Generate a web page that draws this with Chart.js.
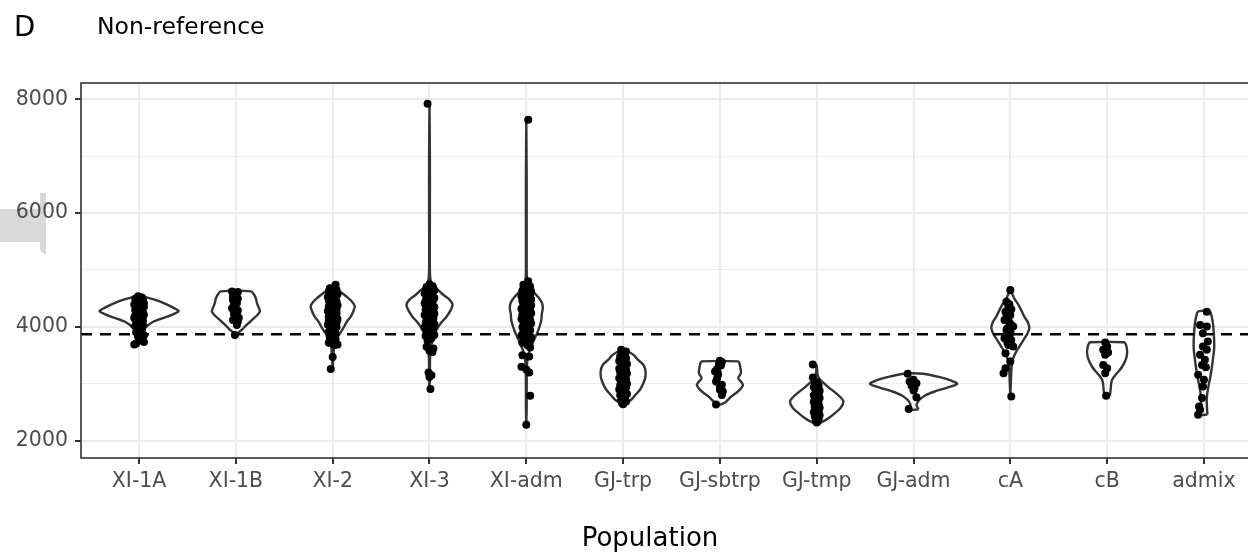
<!DOCTYPE html>
<html>
<head>
<meta charset="utf-8">
<script src="https://cdn.jsdelivr.net/npm/chart.js@4.4.1/dist/chart.umd.min.js"></script>
<style>
  body { margin: 0; background: #fff; overflow: hidden; font-family: "DejaVu Sans", sans-serif; }
  #wrap { position: relative; width: 1275px; height: 552px; }
  #myChart { position: relative; z-index: 1; }
  .txt { position: absolute; white-space: nowrap; line-height: 1; color: #000; z-index: 2; }
  .grey { position: absolute; background: #d9d9d9; z-index: 0; }
</style>
</head>
<body>
<div id="wrap">
  <div class="grey" style="left:0;top:209px;width:42px;height:33px"></div>
  <div class="grey" style="left:40px;top:193px;width:6px;height:61px;border-radius:0 0 0 6px"></div>
  <canvas id="myChart"></canvas>
  <div class="txt" style="left:14px;top:13px;font-size:27.5px">D</div>
  <div class="txt" style="left:97px;top:15px;font-size:23.5px">Non-reference</div>
  <div class="txt" style="left:650px;top:524px;font-size:26px;transform:translateX(-50%)">Population</div>
</div>
<script>
const categories = ["XI-1A", "XI-1B", "XI-2", "XI-3", "XI-adm", "GJ-trp", "GJ-sbtrp", "GJ-tmp", "GJ-adm", "cA", "cB", "admix"];
const yTicks = [2000, 4000, 6000, 8000];
const yMinor = [3000, 5000, 7000];
const refLine = 3870;

// violin outlines: values (bottom -> top) and density
const xi1aViolinY = [3690, 3800, 3900, 3980, 4090, 4180, 4230, 4280, 4330, 4390, 4470, 4510, 4545];
const xi1aViolinD = [0, 3, 4, 6, 14, 28, 35, 39.5, 35, 28, 17, 9, 0];
const xi1bViolinY = [3870, 3950, 4040, 4120, 4200, 4270, 4330, 4420, 4500, 4570, 4625];
const xi1bViolinD = [0, 6, 11, 16, 21, 24, 23, 21, 20, 18, 15];
const xi2ViolinY = [3260, 3450, 3650, 3780, 3880, 3990, 4090, 4180, 4270, 4360, 4450, 4530, 4600, 4660, 4740];
const xi2ViolinD = [0, 0.6, 1.5, 4, 7, 11, 14, 18, 20.5, 22, 19, 14, 9, 4, 0];
const xi3ViolinY = [2910, 3100, 3400, 3650, 3780, 3880, 3980, 4080, 4180, 4290, 4390, 4480, 4560, 4640, 4720, 4800, 5000, 6000, 7000, 7920];
const xi3ViolinD = [0, 0.4, 0.5, 1.3, 3.5, 5, 8, 12, 17, 21, 23, 20, 14, 9, 4, 1.3, 0.4, 0.4, 0.4, 0];
const xiAdmViolinY = [2280, 2600, 3000, 3300, 3450, 3570, 3700, 3820, 3920, 4020, 4120, 4230, 4330, 4430, 4520, 4600, 4680, 4740, 4820, 5200, 6500, 7640];
const xiAdmViolinD = [0, 0.4, 0.4, 0.6, 1.3, 3, 6, 9, 11.5, 13.5, 15, 15.5, 16.5, 15.5, 12, 8, 5, 3, 0.8, 0.4, 0.4, 0];
const gjTrpViolinY = [2630, 2720, 2800, 2900, 3000, 3100, 3180, 3260, 3340, 3420, 3500, 3560, 3600];
const gjTrpViolinD = [0, 8, 12, 17, 20, 22, 22.5, 22, 20, 15, 11, 6, 0];
const gjSbtrpViolinY = [2632, 2670, 2780, 2880, 2980, 3040, 3100, 3190, 3280, 3360, 3395];
const gjSbtrpViolinD = [0, 5, 11.5, 19, 23, 21, 18.3, 21, 20.5, 19.5, 18.3];
const gjTmpViolinY = [2290, 2340, 2400, 2490, 2580, 2690, 2760, 2840, 2930, 3020, 3080, 3150, 3250, 3340];
const gjTmpViolinD = [0, 6.5, 12, 18.5, 24, 26.7, 24, 19, 12.5, 6.5, 3, 1, 0.4, 0];
const gjAdmViolinY = [2550, 2630, 2720, 2800, 2870, 2930, 3000, 3060, 3130, 3178];
const gjAdmViolinD = [5, 3, 6, 12, 22, 33, 43.5, 37, 23, 9.2];
const cAViolinY = [2780, 3000, 3300, 3450, 3570, 3680, 3780, 3880, 3980, 4080, 4180, 4290, 4390, 4500, 4650];
const cAViolinD = [0, 0.5, 1.3, 3, 6, 10, 13.5, 17, 19, 17.5, 14, 11, 8, 4, 0];
const cBViolinY = [2790, 2830, 2900, 3000, 3070, 3150, 3230, 3300, 3400, 3480, 3560, 3640, 3700, 3730];
const cBViolinD = [3, 3, 3.5, 4, 5, 8, 12, 15, 18, 19.5, 20, 19.5, 18.5, 17];
const admixViolinY = [2460, 2600, 2720, 2850, 3000, 3130, 3300, 3500, 3650, 3850, 4060, 4200, 4270];
const admixViolinD = [3.5, 3, 2.8, 3.5, 5, 6.5, 8, 9.5, 10.3, 10, 9, 7.5, 6];

// jittered points: values and horizontal jitter (category units)
const xi1aPtsY = [4540, 4515, 4495, 4475, 4455, 4435, 4415, 4395, 4375, 4355, 4335, 4315, 4295, 4275, 4255, 4235, 4215, 4195, 4175, 4155, 4135, 4115, 4095, 4075, 4055, 4035, 4015, 3995, 3975, 3955, 3930, 3905, 3880, 3855, 3825, 3795, 3765, 3735, 3710, 3690];
const xi1aPtsJ = [-0.01, 0.03, -0.04, 0.04, 0, -0.03, 0.05, -0.05, 0.02, 0.05, -0.02, 0.03, -0.04, 0, 0.04, -0.01, 0.05, -0.04, 0.02, -0.05, 0.01, 0.04, -0.03, 0.03, -0.01, 0.04, -0.04, 0.02, -0.02, 0.03, 0, -0.03, 0.02, 0.05, -0.01, 0.02, 0.04, 0.05, -0.03, -0.05];
const xi1bPtsY = [4620, 4615, 4580, 4532, 4500, 4474, 4416, 4380, 4328, 4290, 4268, 4230, 4210, 4160, 4123, 4093, 4035, 3860];
const xi1bPtsJ = [-0.04, 0.02, -0.01, -0.03, 0.02, -0.03, 0.01, -0.02, -0.04, 0.02, 0.01, -0.02, -0.01, 0.03, -0.03, 0.02, 0.01, -0.01];
const xi2PtsY = [4740, 4680, 4650, 4620, 4600, 4575, 4550, 4525, 4500, 4480, 4460, 4440, 4420, 4400, 4380, 4360, 4340, 4320, 4300, 4280, 4260, 4240, 4220, 4200, 4180, 4160, 4140, 4120, 4100, 4080, 4060, 4040, 4020, 4000, 3970, 3940, 3910, 3880, 3850, 3820, 3780, 3720, 3690, 3680, 3470, 3260];
const xi2PtsJ = [0.03, -0.03, 0.04, -0.04, 0.01, 0.05, -0.02, -0.05, 0.03, 0, -0.04, 0.04, 0.02, -0.02, 0.05, -0.04, 0.02, -0.01, 0.04, -0.05, 0.01, 0.04, -0.03, 0.03, -0.04, 0.02, 0.05, -0.02, -0.04, 0.04, 0, -0.05, 0.02, 0.04, -0.02, 0.02, -0.04, 0.03, 0.01, -0.03, 0.03, -0.04, 0.05, 0.02, 0, -0.02];
const xi3PtsY = [7920, 4750, 4720, 4700, 4680, 4660, 4640, 4620, 4600, 4585, 4570, 4550, 4530, 4510, 4495, 4480, 4460, 4440, 4425, 4410, 4390, 4370, 4350, 4335, 4320, 4300, 4280, 4260, 4245, 4230, 4210, 4190, 4170, 4150, 4130, 4110, 4090, 4070, 4050, 4030, 4010, 3990, 3970, 3950, 3930, 3905, 3880, 3860, 3840, 3800, 3760, 3650, 3620, 3580, 3560, 3200, 3150, 3120, 2910];
const xi3PtsJ = [-0.02, 0, 0.03, -0.03, 0.04, -0.01, 0.05, -0.04, 0.02, -0.05, 0.03, 0, -0.03, 0.05, -0.02, 0.04, -0.04, 0.01, 0.03, -0.05, 0.02, -0.01, 0.05, -0.03, 0.03, -0.04, 0.01, 0.04, -0.02, 0.05, -0.05, 0.02, -0.01, 0.04, -0.03, 0.03, 0, -0.04, 0.05, -0.02, 0.02, -0.05, 0.04, -0.01, 0.03, -0.03, 0.01, 0.05, -0.04, 0.02, -0.02, -0.03, 0.04, 0, 0.03, -0.01, 0.02, 0, 0.01];
const xiAdmPtsY = [7640, 4800, 4740, 4710, 4690, 4665, 4640, 4620, 4600, 4580, 4560, 4540, 4520, 4500, 4480, 4460, 4440, 4420, 4400, 4380, 4360, 4340, 4320, 4300, 4280, 4260, 4240, 4220, 4200, 4180, 4160, 4140, 4120, 4100, 4080, 4060, 4040, 4020, 4000, 3970, 3940, 3910, 3880, 3850, 3820, 3790, 3760, 3720, 3680, 3640, 3500, 3480, 3300, 3250, 3200, 2790, 2280];
const xiAdmPtsJ = [0.02, 0.02, -0.03, 0.04, -0.01, 0.03, -0.04, 0.05, 0, -0.03, 0.04, -0.05, 0.02, -0.02, 0.05, -0.04, 0.01, 0.03, -0.03, 0.05, -0.01, 0.02, -0.05, 0.04, -0.02, 0, 0.05, -0.04, 0.03, -0.01, 0.02, -0.05, 0.04, -0.03, 0.01, 0.05, -0.02, 0.03, -0.04, 0, 0.04, -0.03, 0.02, -0.05, 0.05, -0.01, 0.03, -0.04, 0.01, 0.04, -0.04, 0.03, -0.05, 0, 0.03, 0.04, 0];
const gjTrpPtsY = [3600, 3570, 3540, 3510, 3480, 3450, 3420, 3400, 3370, 3350, 3320, 3300, 3270, 3250, 3220, 3200, 3180, 3150, 3130, 3100, 3080, 3050, 3030, 3000, 2980, 2950, 2930, 2900, 2880, 2850, 2820, 2800, 2770, 2740, 2710, 2690, 2660, 2640];
const gjTrpPtsJ = [-0.02, 0.03, -0.01, 0.02, -0.03, 0.03, 0, -0.04, 0.02, 0.04, -0.02, 0.01, -0.04, 0.03, 0, -0.03, 0.04, -0.01, 0.02, -0.04, 0.03, 0, -0.02, 0.04, -0.03, 0.01, 0.03, -0.04, 0.02, -0.01, 0.04, -0.03, 0, 0.02, -0.02, 0.03, -0.01, 0];
const gjSbtrpPtsY = [3405, 3385, 3350, 3320, 3260, 3215, 3180, 3155, 3090, 3040, 2985, 2955, 2895, 2865, 2805, 2635];
const gjSbtrpPtsJ = [0, 0.02, -0.01, 0.01, -0.03, -0.05, -0.02, -0.02, -0.03, -0.04, 0.02, 0, 0, 0.03, 0.02, -0.04];
const gjTmpPtsY = [3340, 3110, 3030, 3000, 2970, 2940, 2910, 2880, 2860, 2830, 2800, 2780, 2750, 2720, 2700, 2680, 2650, 2630, 2600, 2580, 2550, 2530, 2500, 2480, 2450, 2430, 2400, 2380, 2360, 2340, 2320];
const gjTmpPtsJ = [-0.04, -0.04, 0, -0.02, 0.02, -0.03, 0.01, 0.03, -0.01, 0.02, -0.03, 0, 0.03, -0.02, 0.01, -0.03, 0.02, 0, -0.02, 0.03, -0.01, 0.02, -0.03, 0.01, 0.03, -0.02, 0, 0.02, -0.01, 0.01, 0];
const gjAdmPtsY = [3175, 3070, 3041, 3012, 2965, 2924, 2883, 2766, 2556];
const gjAdmPtsJ = [-0.06, 0, -0.04, 0.03, -0.02, 0.01, 0, 0.03, -0.05];
const cAPtsY = [4649, 4444, 4400, 4356, 4310, 4268, 4240, 4210, 4170, 4123, 4080, 4035, 4005, 3975, 3947, 3920, 3889, 3850, 3801, 3772, 3720, 3684, 3655, 3538, 3391, 3275, 3188, 2777];
const cAPtsJ = [0, -0.04, -0.01, -0.02, 0.01, -0.05, -0.02, 0, -0.04, -0.06, -0.01, 0.01, 0.03, -0.03, -0.04, 0, 0, -0.02, -0.06, 0.01, -0.03, -0.02, 0.03, -0.05, 0, -0.05, -0.07, 0.01];
const cBPtsY = [3725, 3655, 3597, 3550, 3509, 3333, 3275, 3188, 2790];
const cBPtsJ = [-0.02, 0, -0.04, 0.01, -0.02, -0.04, 0, -0.02, -0.01];
const admixPtsY = [4268, 4035, 4005, 3889, 3743, 3655, 3597, 3509, 3421, 3333, 3292, 3158, 3070, 2953, 2749, 2602, 2544, 2456];
const admixPtsJ = [0.03, -0.04, 0.03, -0.01, 0.04, -0.01, 0.03, -0.04, 0.01, -0.02, 0.02, -0.06, 0, -0.01, -0.02, -0.05, -0.04, -0.06];

const violinY = [xi1aViolinY, xi1bViolinY, xi2ViolinY, xi3ViolinY, xiAdmViolinY, gjTrpViolinY, gjSbtrpViolinY, gjTmpViolinY, gjAdmViolinY, cAViolinY, cBViolinY, admixViolinY];
const violinD = [xi1aViolinD, xi1bViolinD, xi2ViolinD, xi3ViolinD, xiAdmViolinD, gjTrpViolinD, gjSbtrpViolinD, gjTmpViolinD, gjAdmViolinD, cAViolinD, cBViolinD, admixViolinD];
const ptsY = [xi1aPtsY, xi1bPtsY, xi2PtsY, xi3PtsY, xiAdmPtsY, gjTrpPtsY, gjSbtrpPtsY, gjTmpPtsY, gjAdmPtsY, cAPtsY, cBPtsY, admixPtsY];
const ptsJ = [xi1aPtsJ, xi1bPtsJ, xi2PtsJ, xi3PtsJ, xiAdmPtsJ, gjTrpPtsJ, gjSbtrpPtsJ, gjTmpPtsJ, gjAdmPtsJ, cAPtsJ, cBPtsJ, admixPtsJ];

// widest violin gets half-width 0.45 (scale = "area")
const maxD = Math.max(...violinD.flat());

const violinSets = categories.map((c, i) => {
  const ys = violinY[i], ds = violinD[i];
  const outline = [];
  for (let k = 0; k < ys.length; k++) outline.push({ x: i + 1 + ds[k] / maxD * 0.45, y: ys[k] });
  for (let k = ys.length - 1; k >= 0; k--) outline.push({ x: i + 1 - ds[k] / maxD * 0.45, y: ys[k] });
  outline.push(outline[0]);
  return {
    label: c, data: outline, showLine: true, tension: 0.3,
    borderColor: "#333333", borderWidth: 2.4, pointRadius: 0, fill: false, order: 2
  };
});

const pointSets = categories.map((c, i) => ({
  label: c + " pts",
  data: ptsY[i].map((v, k) => ({ x: i + 1 + (ptsJ[i][k] || 0), y: v })),
  pointRadius: 4, backgroundColor: "#000", borderWidth: 0, order: 0
}));

const refSet = {
  label: "ref", data: [{ x: 0.4, y: refLine }, { x: 12.6, y: refLine }],
  showLine: true, borderColor: "#000", borderWidth: 2.4, borderDash: [11, 8], pointRadius: 0, order: 1
};

const panelBorder = {
  id: "panelBorder",
  afterDatasetsDraw(chart) {
    const a = chart.chartArea, ctx = chart.ctx;
    ctx.save();
    ctx.strokeStyle = "#333333";
    ctx.lineWidth = 1.6;
    ctx.strokeRect(a.left, a.top, a.right - a.left, a.bottom - a.top);
    ctx.restore();
  }
};

Chart.defaults.font.family = "DejaVu Sans";

const ctx = document.getElementById("myChart");
const myChart = new Chart(ctx, {
  type: "scatter",
  data: { datasets: [...violinSets, ...pointSets, refSet] },
  plugins: [panelBorder],
  options: {
    responsive: true,
    maintainAspectRatio: false,
    animation: false,
    events: [],
    layout: { padding: { top: 83, right: 13, left: 0, bottom: 0 } },
    plugins: { legend: { display: false }, tooltip: { enabled: false } },
    scales: {
      x: {
        type: "linear", min: 0.4, max: 12.6,
        afterBuildTicks: (s) => { s.ticks = categories.map((c, i) => ({ value: i + 1 })); },
        afterFit: (s) => { s.height = 94; },
        ticks: {
          callback: (v, i) => categories[i],
          autoSkip: false, maxRotation: 0, padding: 5,
          color: "#4d4d4d", font: { size: 20.5 }
        },
        grid: { color: "#ebebeb", lineWidth: 2, tickColor: "#333333", tickLength: 6 },
        border: { display: false }
      },
      y: {
        type: "linear", min: 1697, max: 8285,
        afterBuildTicks: (s) => { s.ticks = [...yTicks, ...yMinor].sort((a, b) => a - b).map(v => ({ value: v })); },
        afterFit: (s) => { s.width = 81; },
        ticks: {
          callback: (v) => yTicks.includes(v) ? String(v) : "",
          padding: 7, color: "#4d4d4d", font: { size: 20.5 }
        },
        grid: {
          color: "#ebebeb",
          lineWidth: (c) => yTicks.includes(c.tick.value) ? 2 : 1,
          tickColor: (c) => yTicks.includes(c.tick.value) ? "#333333" : "rgba(0,0,0,0)",
          tickLength: 6
        },
        border: { display: false }
      }
    }
  }
});
</script>
</body>
</html>
